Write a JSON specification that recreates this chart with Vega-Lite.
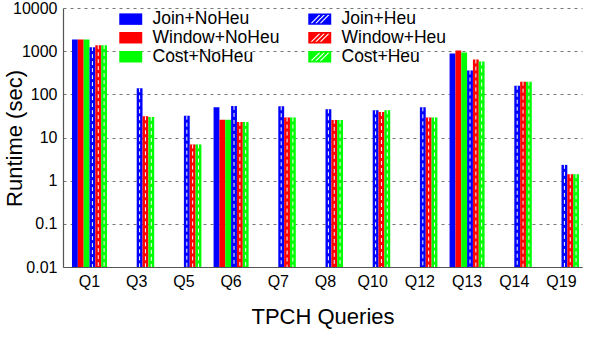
{
  "$schema": "https://vega.github.io/schema/vega-lite/v6.json",
  "width": 519,
  "height": 259,
  "autosize": {"type": "none"},
  "padding": {"left": 63, "top": 8, "right": 16, "bottom": 83},
  "background": "white",
  "config": {
    "font": "Liberation Sans",
    "view": {"stroke": null},
    "axis": {"labelColor": "black", "titleColor": "black", "titleFontWeight": "normal"}
  },
  "data": {
    "values": [
      {"q": "Q1", "s": "Join+NoHeu", "v": 1870},
      {"q": "Q1", "s": "Window+NoHeu", "v": 1870},
      {"q": "Q1", "s": "Cost+NoHeu", "v": 1870},
      {"q": "Q1", "s": "Join+Heu", "v": 1240},
      {"q": "Q1", "s": "Window+Heu", "v": 1380},
      {"q": "Q1", "s": "Cost+Heu", "v": 1380},
      {"q": "Q3", "s": "Join+Heu", "v": 138},
      {"q": "Q3", "s": "Window+Heu", "v": 31},
      {"q": "Q3", "s": "Cost+Heu", "v": 30},
      {"q": "Q5", "s": "Join+Heu", "v": 32},
      {"q": "Q5", "s": "Window+Heu", "v": 6.9},
      {"q": "Q5", "s": "Cost+Heu", "v": 6.9},
      {"q": "Q6", "s": "Join+NoHeu", "v": 50},
      {"q": "Q6", "s": "Window+NoHeu", "v": 25.8},
      {"q": "Q6", "s": "Cost+NoHeu", "v": 25.8},
      {"q": "Q6", "s": "Join+Heu", "v": 54},
      {"q": "Q6", "s": "Window+Heu", "v": 23},
      {"q": "Q6", "s": "Cost+Heu", "v": 23},
      {"q": "Q7", "s": "Join+Heu", "v": 53},
      {"q": "Q7", "s": "Window+Heu", "v": 29},
      {"q": "Q7", "s": "Cost+Heu", "v": 29},
      {"q": "Q8", "s": "Join+Heu", "v": 45},
      {"q": "Q8", "s": "Window+Heu", "v": 25.6},
      {"q": "Q8", "s": "Cost+Heu", "v": 25.6},
      {"q": "Q10", "s": "Join+Heu", "v": 42.5},
      {"q": "Q10", "s": "Window+Heu", "v": 39},
      {"q": "Q10", "s": "Cost+Heu", "v": 42.5},
      {"q": "Q12", "s": "Join+Heu", "v": 50},
      {"q": "Q12", "s": "Window+Heu", "v": 29},
      {"q": "Q12", "s": "Cost+Heu", "v": 29},
      {"q": "Q13", "s": "Join+NoHeu", "v": 885},
      {"q": "Q13", "s": "Window+NoHeu", "v": 1040},
      {"q": "Q13", "s": "Cost+NoHeu", "v": 933},
      {"q": "Q13", "s": "Join+Heu", "v": 357},
      {"q": "Q13", "s": "Window+Heu", "v": 642},
      {"q": "Q13", "s": "Cost+Heu", "v": 578},
      {"q": "Q14", "s": "Join+Heu", "v": 158},
      {"q": "Q14", "s": "Window+Heu", "v": 196},
      {"q": "Q14", "s": "Cost+Heu", "v": 196},
      {"q": "Q19", "s": "Join+Heu", "v": 2.32},
      {"q": "Q19", "s": "Window+Heu", "v": 1.41},
      {"q": "Q19", "s": "Cost+Heu", "v": 1.41}
    ]
  },
  "encoding": {
    "x": {
      "field": "q", "type": "nominal",
      "sort": ["Q1", "Q3", "Q5", "Q6", "Q7", "Q8", "Q10", "Q12", "Q13", "Q14", "Q19"],
      "scale": {"paddingInner": 0.258, "paddingOuter": 0.127, "align": 0.75},
      "title": "TPCH Queries",
      "axis": {
        "labelAngle": 0, "labelFontSize": 16, "labelPadding": 6,
        "ticks": false, "domainColor": "#555", "domainWidth": 1.2,
        "titleFontSize": 22, "titlePadding": 17
      }
    },
    "xOffset": {
      "field": "s", "type": "nominal",
      "scale": {"domain": ["Join+NoHeu", "Window+NoHeu", "Cost+NoHeu", "Join+Heu", "Window+Heu", "Cost+Heu"], "paddingInner": 0, "paddingOuter": 0}
    },
    "y": {
      "field": "v", "type": "quantitative",
      "scale": {"type": "log", "domain": [0.01, 10000]},
      "title": "Runtime (sec)",
      "axis": {
        "values": [0.01, 0.1, 1, 10, 100, 1000, 10000],
        "labelExpr": "datum.value >= 1 ? format(datum.value, 'd') : format(datum.value, '~g')",
        "labelFontSize": 16, "labelPadding": 6,
        "ticks": false, "domainColor": "#555", "domainWidth": 1.2,
        "grid": true, "gridDash": [3, 4], "gridColor": "#777", "gridWidth": 1,
        "titleFontSize": 22, "titleAngle": -90, "titleX": -49, "titleY": 130, "titleBaseline": "middle", "titleAlign": "center"
      }
    },
    "y2": {"datum": 0.01}
  },
  "layer": [
    {
      "mark": {"type": "bar"},
      "encoding": {
        "color": {
          "field": "s", "type": "nominal",
          "scale": {
            "domain": ["Join+NoHeu", "Window+NoHeu", "Cost+NoHeu", "Join+Heu", "Window+Heu", "Cost+Heu"],
            "range": ["#0000ff", "#ff0000", "#00ff00", "#0000ff", "#ff0000", "#00ff00"]
          },
          "legend": {
            "title": null,
            "orient": "none",
            "legendX": 57,
            "legendY": 0,
            "direction": "vertical",
            "columns": 2,
            "gridAlign": "each",
            "columnPadding": 28,
            "rowPadding": 0,
            "padding": 2,
            "labelFontSize": 17.5,
            "labelColor": "black",
            "labelOffset": 13,
            "symbolType": "M-1.64,-0.82H1.64V0.82H-1.64Z",
            "symbolSize": 196,
            "symbolStrokeWidth": 0,
            "symbolOpacity": 1,
            "encode": {
              "symbols": {
                "update": {
                  "shape": {"signal": "indexof(datum.value, '+Heu') >= 0 ? 'M-1.64,-0.82H1.64V0.82H-1.64Z M-1.3,0.58L-1.08,0.58L0.08,-0.58L-0.14,-0.58Z M-0.65,0.58L-0.43,0.58L0.73,-0.58L0.51,-0.58Z M0,0.58L0.22,0.58L1.38,-0.58L1.16,-0.58Z' : 'M-1.64,-0.82H1.64V0.82H-1.64Z'"}
                }
              }
            }
          }
        }
      }
    },
    {
      "transform": [{"filter": "indexof(datum.s, '+Heu') >= 0"}],
      "mark": {"type": "rule", "color": "white", "strokeDash": [4, 3], "strokeWidth": 1},
      "encoding": {}
    }
  ]
}
